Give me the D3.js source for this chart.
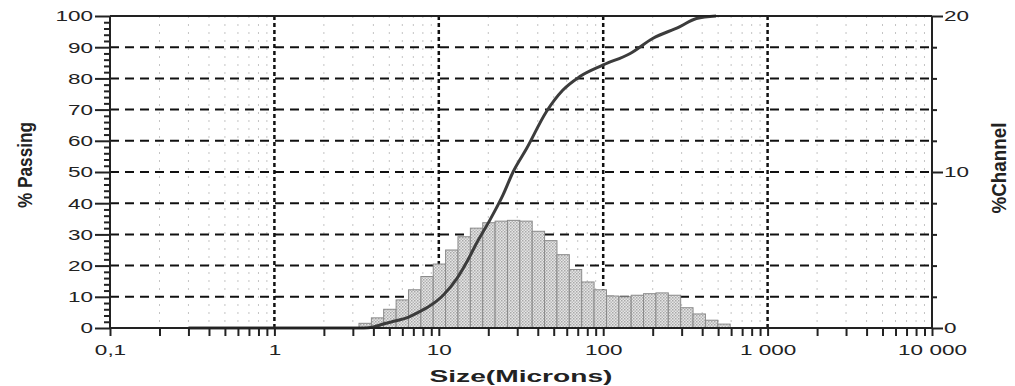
<!DOCTYPE html>
<html>
<head>
<meta charset="utf-8">
<script src="https://cdn.jsdelivr.net/npm/d3@7"></script>
<style>
  body { margin: 0; background: #fff; }
  svg text { font-family: "Liberation Sans", Arial, sans-serif; fill: #222; }
</style>
</head>
<body>
<div id="chart"></div>
<script>
//Width and height
var w = 1015;
var h = 386;
var margin = {left: 110, right: 83, top: 16, bottom: 58};

//Histogram bins (microns, root-4-of-2 series) and % channel per bin
var binEdges = [3.27, 3.89, 4.62, 5.5, 6.54, 7.78, 9.25, 11, 13.08, 15.56, 18.5, 22, 26.16, 31.11, 37, 44,
    52.33, 62.23, 74, 88, 104.7, 124.5, 148, 176, 209.3, 248.9, 296, 352, 418.6, 497.8, 592];
var channel = [0.3, 0.65, 1.2, 1.8, 2.45, 3.3, 4.1, 5.0, 5.85, 6.4, 6.75, 6.85, 6.9, 6.85, 6.2,
    5.6, 4.7, 3.75, 2.95, 2.45, 2.05, 2.0, 2.1, 2.2, 2.25, 2.1, 1.3, 0.9, 0.5, 0.25];

//Cumulative % passing curve
var curveSize = [0.3, 3.5, 4.0, 4.6, 5.5, 6.5, 7.5, 8.6, 10.6, 12.9, 15, 17.1, 20.4, 24.5, 28.3, 34.2,
    45.1, 56.7, 71.7, 100, 146, 200, 291, 369, 486];
var curvePassing = [0, 0, 0.3, 1.3, 2.3, 3.4, 5.0, 6.7, 10.4, 15.9, 21.7, 27.5, 34.5, 42.5, 50, 57.5,
    69.3, 76.2, 80.5, 84.3, 88, 92.8, 96.5, 99.2, 100];

//Axis ticks
var xTicks = [0.1, 1, 10, 100, 1000, 10000];
var xTickLabels = ["0,1", "1", "10", "100", "1 000", "10 000"];
var leftTicks = [0, 10, 20, 30, 40, 50, 60, 70, 80, 90, 100];
var rightTicks = [0, 10, 20];

var x0 = margin.left, x1 = w - margin.right;
var y0 = h - margin.bottom, y1 = margin.top;

var xScale = d3.scaleLog().domain([0.1, 10000]).range([x0, x1]);
var yLeft = d3.scaleLinear().domain([0, 100]).range([y0, y1]);
var yRight = d3.scaleLinear().domain([0, 20]).range([y0, y1]);

//minor decade ticks 2..9
var minorX = [];
[0.1, 1, 10, 100, 1000].forEach(function (d) {
    for (var k = 2; k <= 9; k++) minorX.push(d * k);
});

var svg = d3.select("#chart").append("svg")
    .attr("width", w)
    .attr("height", h);

//hatch pattern for bars
var defs = svg.append("defs");
var pat = defs.append("pattern")
    .attr("id", "hatch")
    .attr("patternUnits", "userSpaceOnUse")
    .attr("width", 3).attr("height", 3);
pat.append("rect").attr("width", 3).attr("height", 3).attr("fill", "#e6e6e6");
pat.append("rect").attr("width", 1.5).attr("height", 1.5).attr("fill", "#a8a8a8");
pat.append("rect").attr("x", 1.5).attr("y", 1.5).attr("width", 1.5).attr("height", 1.5).attr("fill", "#b8b8b8");

//light minor grid
svg.append("g").selectAll("line")
    .data(minorX)
    .enter().append("line")
    .attr("x1", function (d) { return xScale(d); })
    .attr("x2", function (d) { return xScale(d); })
    .attr("y1", y1).attr("y2", y0)
    .attr("stroke", "#c4c4c4")
    .attr("stroke-width", 1)
    .attr("stroke-dasharray", "2,6");

//dashed major grid
svg.append("g").selectAll("line")
    .data(leftTicks.slice(1, -1))
    .enter().append("line")
    .attr("x1", x0).attr("x2", x1)
    .attr("y1", function (d) { return yLeft(d); })
    .attr("y2", function (d) { return yLeft(d); })
    .attr("stroke", "#111")
    .attr("stroke-width", 2)
    .attr("stroke-dasharray", "9,6");

svg.append("g").selectAll("line")
    .data(xTicks.slice(1, -1))
    .enter().append("line")
    .attr("x1", function (d) { return xScale(d); })
    .attr("x2", function (d) { return xScale(d); })
    .attr("y1", y1).attr("y2", y0)
    .attr("stroke", "#111")
    .attr("stroke-width", 2.5)
    .attr("stroke-dasharray", "4,3");

//histogram
svg.append("g").selectAll("rect")
    .data(channel)
    .enter().append("rect")
    .attr("x", function (d, i) { return xScale(binEdges[i]); })
    .attr("width", function (d, i) { return xScale(binEdges[i + 1]) - xScale(binEdges[i]); })
    .attr("y", function (d) { return yRight(d); })
    .attr("height", function (d) { return y0 - yRight(d); })
    .attr("fill", "url(#hatch)")
    .attr("stroke", "#8a8a8a")
    .attr("stroke-width", 1);

//cumulative curve
var pts = curveSize.map(function (s, i) { return [s, curvePassing[i]]; });
var line = d3.line()
    .x(function (d) { return xScale(d[0]); })
    .y(function (d) { return yLeft(d[1]); })
    .curve(d3.curveMonotoneX);

svg.append("path")
    .datum(pts)
    .attr("d", line)
    .attr("fill", "none")
    .attr("stroke", "#3c3c3c")
    .attr("stroke-width", 3);

//frame top
svg.append("line")
    .attr("x1", x0).attr("x2", x1).attr("y1", y1).attr("y2", y1)
    .attr("stroke", "#222").attr("stroke-width", 2);

var sx = 1.5;

//bottom axis
var gx = svg.append("g")
    .attr("transform", "translate(0," + y0 + ")")
    .call(d3.axisBottom(xScale).tickValues(xTicks.concat(minorX)).tickSize(8)
        .tickFormat(function (d) {
            var i = xTicks.indexOf(d);
            return i >= 0 ? xTickLabels[i] : "";
        }));
gx.select(".domain").attr("stroke", "#222").attr("stroke-width", 2);
gx.selectAll(".tick line").attr("stroke", "#222").attr("stroke-width", 2);
gx.selectAll(".tick text")
    .attr("y", 16)
    .attr("font-size", 15)
    .attr("transform", "scale(" + sx + ",1)");

//left axis
var gl = svg.append("g")
    .attr("transform", "translate(" + x0 + ",0)")
    .call(d3.axisLeft(yLeft).tickValues(d3.range(0, 101, 2)).tickSize(6)
        .tickFormat(function (d) { return d % 10 === 0 ? d : ""; }));
gl.select(".domain").attr("stroke", "#222").attr("stroke-width", 2);
gl.selectAll(".tick line").attr("stroke", "#222").attr("stroke-width", 2)
    .attr("x2", function (d) { return d % 10 === 0 ? -15 : -6; });
gl.selectAll(".tick text")
    .attr("x", -17 / sx)
    .attr("font-size", 15)
    .attr("transform", "scale(" + sx + ",1)");

//right axis
var gr = svg.append("g")
    .attr("transform", "translate(" + x1 + ",0)")
    .call(d3.axisRight(yRight).tickValues(d3.range(0, 21, 2)).tickSize(5)
        .tickFormat(function (d) { return rightTicks.indexOf(d) >= 0 ? d : ""; }));
gr.select(".domain").attr("stroke", "#222").attr("stroke-width", 2);
gr.selectAll(".tick line").attr("stroke", "#222").attr("stroke-width", 2)
    .attr("x2", function (d) { return rightTicks.indexOf(d) >= 0 ? 11 : 5; });
gr.selectAll(".tick text")
    .attr("x", 12 / sx)
    .attr("font-size", 15)
    .attr("transform", "scale(" + sx + ",1)");

svg.selectAll(".domain").attr("d", null);
//axis lines drawn plainly
svg.append("line").attr("x1", x0).attr("x2", x1).attr("y1", y0).attr("y2", y0).attr("stroke", "#222").attr("stroke-width", 2);
svg.append("line").attr("x1", x0).attr("x2", x0).attr("y1", y1).attr("y2", y0).attr("stroke", "#222").attr("stroke-width", 2);
svg.append("line").attr("x1", x1).attr("x2", x1).attr("y1", y1).attr("y2", y0).attr("stroke", "#222").attr("stroke-width", 2);

//titles
svg.append("text")
    .attr("x", 521).attr("y", 382)
    .attr("text-anchor", "middle")
    .attr("font-size", 17).attr("font-weight", "bold")
    .attr("textLength", 183).attr("lengthAdjust", "spacingAndGlyphs")
    .text("Size(Microns)");

svg.append("text")
    .attr("transform", "translate(32,165) rotate(-90) scale(1,1.3)")
    .attr("text-anchor", "middle")
    .attr("font-size", 15).attr("font-weight", "bold")
    .attr("textLength", 86).attr("lengthAdjust", "spacingAndGlyphs")
    .text("% Passing");

svg.append("text")
    .attr("transform", "translate(1006,168) rotate(-90) scale(1,1.3)")
    .attr("text-anchor", "middle")
    .attr("font-size", 15).attr("font-weight", "bold")
    .attr("textLength", 91).attr("lengthAdjust", "spacingAndGlyphs")
    .text("%Channel");
</script>
</body>
</html>
